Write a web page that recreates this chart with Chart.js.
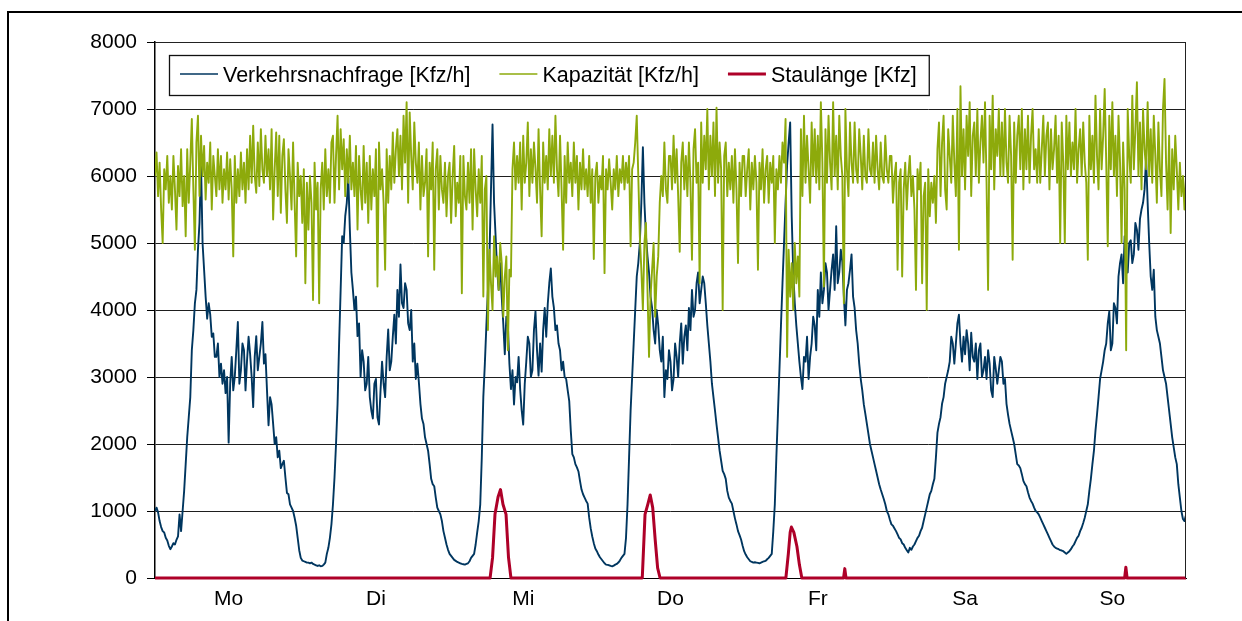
<!DOCTYPE html>
<html>
<head>
<meta charset="utf-8">
<script src="https://cdn.jsdelivr.net/npm/chart.js@4.4.1/dist/chart.umd.min.js"></script>
<style>
  html, body { margin: 0; padding: 0; background: #fff; overflow: hidden; }
  #wrap { position: relative; width: 1242px; height: 621px; }
  #frame { position: absolute; left: 7px; top: 11px; width: 1400px; height: 800px; border: 2px solid #000; }
  #chart { position: absolute; left: 0; top: 0; }
</style>
</head>
<body>
<div id="wrap">
  <div id="frame"></div>
  <canvas id="chart" width="1242" height="621"></canvas>
</div>
<script>
// one week in quarter hours, Mo 0:00 .. So 24:00
const dayLabels = ['Mo', 'Di', 'Mi', 'Do', 'Fr', 'Sa', 'So']
const dayCenters = [12, 36, 60, 84, 108, 132, 156]
const stepHours = 0.25

const demand = [
  // Mo
  1000,1050,980,850, 760,700,680,600, 560,480,430,470, 520,500,570,620, 950,700,1000,1300, 1700,2100,2400,2700,
  3400,3700,4100,4300, 4900,5300,6190,5000, 4600,4200,3870,4100, 3930,3600,3650,3300, 3300,3500,3000,3200, 2900,3100,2760,3000,
  2020,2900,3300,2800, 3000,3400,3820,2900, 3100,3500,3400,2800, 3250,3600,3340,3000, 2550,3300,3610,3100, 3300,3500,3820,3200,
  3340,2800,2280,2700, 2590,2300,2000,2100, 1800,1900,1640,1700, 1750,1500,1270,1250, 1100,1050,1000,900, 780,600,415,300,
  // Di
  260,250,240,230, 230,220,230,210, 200,190,180,190, 175,180,200,230, 360,450,600,800, 1100,1500,2000,2600,
  3500,4300,5100,5000, 5400,5600,5970,5200, 4560,4300,4000,4200, 3610,3800,3000,3400, 3230,2800,2900,3300, 2700,2500,2380,2900,
  2970,2400,2290,2800, 3230,2900,2700,3300, 3710,3100,3230,3600, 3930,3500,4300,3900, 4680,4100,4030,4400, 4300,3800,3700,4000,
  3230,3500,2970,3200, 2920,2600,2380,2300, 2100,2000,1900,1700, 1480,1400,1370,1200, 1050,1000,950,850, 700,600,500,420,
  // Mi
  360,330,300,270, 255,240,230,220, 210,205,200,210, 220,250,300,330, 360,500,680,850, 1100,1800,2700,3200,
  3770,4300,4800,5800, 6770,5600,5100,4600, 4300,4700,4190,3800, 3340,3900,3770,3200, 2820,3100,2590,3000, 2920,3300,2820,2500,
  2290,2900,3230,3600, 3500,3000,3100,3700, 3980,3400,3020,3500, 3080,3700,4030,3600, 4090,4400,4620,4200, 4030,3700,3770,3500,
  3400,3100,3230,3000, 2970,2800,2640,2200, 1850,1800,1700,1650, 1590,1450,1320,1250, 1200,1150,1110,900, 740,620,520,440,
  // Do
  400,350,310,280, 250,220,200,195, 190,180,175,185, 200,210,230,260, 300,330,360,600, 1100,1800,2500,3000,
  3500,4000,4500,4700, 5000,5600,6430,5600, 5100,4800,4560,4200, 4030,3700,3500,4000, 3770,3400,3230,3600, 2700,3100,2970,3400,
  3230,2800,2970,3500, 3300,3000,3500,3800, 3200,3600,3770,3400, 4030,3700,4300,3900, 4000,4400,4560,4100, 4300,4500,4400,4100,
  3770,3500,3230,2900, 2700,2500,2290,2100, 1900,1750,1600,1550, 1480,1300,1200,1150, 1110,1000,890,800, 700,640,575,480,
  // Fr
  400,350,310,280, 250,240,230,235, 230,225,220,230, 240,250,255,280, 300,330,360,700, 1100,1800,2440,3100,
  3770,4400,5000,5600, 6160,6500,6800,5400, 4560,4100,3770,3500, 3230,3000,2820,3300, 3230,3600,2970,3300, 3500,3900,3770,3400,
  4300,3900,4560,4100, 4300,4700,4560,4000, 4300,4600,4830,4300, 5250,4400,4560,4900, 4720,4200,3770,4300, 4400,4600,4830,4200,
  4030,3700,3500,3200, 2970,2800,2590,2450, 2300,2150,2000,1900, 1800,1700,1600,1500, 1400,1320,1250,1180, 1100,1000,950,870,
  // Sa
  800,780,740,700, 650,600,575,520, 500,450,415,380, 450,420,470,500, 550,600,630,700, 750,850,950,1050,
  1150,1250,1300,1400, 1480,1800,2170,2300, 2400,2600,2700,2900, 3000,3100,3230,3600, 3500,3200,3500,3800, 3930,3500,3230,3600,
  3340,3700,3500,3100, 3660,3300,3230,3500, 2970,3400,3500,3000, 3100,3300,2970,3400, 3200,2800,2700,3300, 3120,2900,3100,3300,
  3230,2900,2970,2600, 2440,2300,2200,2100, 2000,1850,1700,1680, 1640,1550,1450,1400, 1370,1280,1200,1150, 1110,1050,1000,980,
  // So
  950,900,850,800, 750,700,650,600, 550,500,470,450, 440,430,415,410, 400,380,360,380, 400,430,470,500,
  550,600,630,700, 750,820,900,1000, 1100,1300,1480,1700, 1900,2200,2440,2700, 2970,3100,3230,3400, 3500,3800,3980,3400,
  3500,4100,4030,3800, 4500,4700,4830,4400, 5100,4600,4560,5000, 5040,4700,4830,5300, 5200,4900,5360,5500, 5600,5800,6270,5600,
  5000,4500,4300,4600, 3900,3700,3600,3500, 3300,3100,3000,2900, 2700,2500,2300,2100, 1950,1800,1700,1400, 1200,1000,880,850,
  940
]

const capacity = [
  // Mo
  6000,6350,5700,6200, 5500,5000,6100,5800, 6300,5600,6000,5500, 6300,5800,5200,6150, 5700,6400,5550,6000, 5100,6400,5600,6200,
  6850,5800,4900,6500, 6900,5700,6600,6000, 6450,5650,6200,5900, 6500,5500,6300,6000, 5700,6400,5800,6300, 5600,6100,5800,6350,
  5650,6250,5800,4800, 6300,5600,6100,5700, 6350,5800,6200,5600, 6400,5800,6600,5900, 6750,6000,5750,6500, 5850,6700,6100,5900,
  6600,6000,6400,5800, 6700,5350,6100,6650, 5700,6600,5450,6300, 6550,5800,5300,6400, 6000,5500,6500,5600, 4800,6200,5700,6000,
  // Di
  5300,6100,4400,5900, 5200,6000,5600,4150, 6200,5500,5900,4100, 5800,6200,5500,6400, 5700,6100,5600,6500, 6600,5600,6300,6900,
  5800,6700,6100,6550, 5700,6400,5900,6600, 5800,6200,5700,6450, 5200,6300,5800,5500, 6450,5600,6200,5300, 6300,5500,6100,5700,
  6400,4350,6500,5800, 6100,5600,4600,6400, 5600,6300,5800,6650, 5900,6400,6700,6000, 6600,5800,6900,6200, 7100,5600,6950,6300,
  5800,6800,6200,5900, 6500,5500,6300,5700, 5900,6400,4800,6200, 5800,6500,4600,6100, 6400,5500,6300,5800, 5600,6200,5400,6000,
  // Mi
  6200,5300,6000,6450, 5400,5900,5600,6300, 4250,6300,5700,5500, 6200,5600,6400,5200, 6400,5800,5400,6100, 5600,6300,4200,5800,
  6000,3700,4900,4400, 4000,5100,4500,4800, 4300,5000,4700,3900, 4500,4800,3400,4600, 4500,6100,6500,5800, 6300,5900,6500,5500,
  6600,5900,6200,6800, 5700,6400,5900,6500, 6100,5600,6700,5800, 5100,6500,5900,6300, 5800,6700,6000,6600, 5900,6900,6100,5700,
  6600,5800,4900,6300, 5600,6500,5900,6200, 5700,6500,5900,6300, 5500,6200,5800,6400, 5800,6100,5700,6300, 5600,6100,4760,6000,
  // Do
  6200,5600,6000,5800, 6300,4550,6100,5800, 6250,5900,5500,6100, 5800,6300,5700,6100, 5900,6300,5800,6200, 5900,6300,4950,6100,
  6200,6500,6900,6000, 5100,4600,4000,5000, 5300,4300,3300,4200, 4600,5000,3900,4500, 4800,5600,6000,5700, 6500,5800,5600,6300,
  6300,5800,6600,5900, 6400,5700,4870,6200, 6500,5800,6300,5700, 6500,5900,4750,6400, 6700,5900,6200,4400, 6800,5900,6600,6100,
  7000,5800,6600,6000, 6800,5700,7020,5900, 6500,6100,4000,6300, 6500,5700,6200,5800, 6300,5600,6400,5800, 4700,6200,5700,6300,
  // Fr
  6300,5700,6100,6400, 5500,6200,5800,6300, 5900,4600,6200,5800, 6400,5600,6100,6300, 5600,6200,5900,6300, 5000,6100,5800,6300,
  5900,6500,6200,6850, 3300,4900,4200,4700, 4000,5000,4400,4800, 4200,6700,5700,6900, 5900,6600,6100,5600, 6800,6000,6700,5900,
  6600,5800,7100,6200, 4350,6700,5900,6900, 6200,5800,7100,6000, 6600,5800,6900,6300, 6000,4100,7000,6100, 5700,6800,6200,5900,
  6800,6100,5900,6700, 6300,5800,6600,6000, 5900,6700,6100,6000, 6500,5900,6600,6100, 5800,6500,6000,5900, 6600,6100,5900,6300,
  // Sa
  6300,5600,6000,6200, 4600,5900,6100,4500, 5800,6200,5500,6000, 6300,5700,6000,5500, 4300,6100,5800,6200, 4400,5700,5900,4000,
  6100,5400,5900,5600, 6000,5300,6400,6800, 5700,6500,6900,5800, 5500,6700,6300,5900, 6900,6200,5700,7000, 4900,7340,6000,6700,
  5800,6900,6300,7100, 5700,6600,6800,6000, 7000,5900,6500,6900, 6200,7100,5900,4300, 6900,6100,7200,5800, 6700,6300,7000,6000,
  6800,6000,7000,6200, 5900,6900,6300,4750, 6800,5900,6600,6900, 6100,7000,5800,6700, 6100,6900,5900,6600, 7000,6100,6400,5900,
  // So
  6700,5900,6400,6900, 6000,6600,6800,5800, 6700,6100,6400,6900, 5900,6600,5000,6800, 6200,5000,6900,6100, 6800,6000,6500,6100,
  7000,5900,6400,6700, 6000,6800,6200,5900, 4750,6900,6100,6600, 5900,7200,6300,5800, 7000,6100,6600,7300, 6200,4950,6900,6100,
  7100,6000,6600,5700, 6900,6200,5000,6500, 5800,3400,7000,6300, 5900,7200,6100,6700, 7400,6000,6800,5800, 7000,6400,6100,7100,
  6000,6700,5900,6900, 6300,5600,6800,6100, 5700,7000,7450,6200, 5500,6600,5150,6400, 5800,6600,6100,5500, 6200,5700,6000,5500,
  6000
]

// queue length: read at its break points (hours since Mo 0:00)
const queueHours  = [0, 54.6, 55.0, 55.4, 55.9, 56.3, 56.7, 57.2, 57.6, 58.0,
                     79.4, 79.85, 80.3, 80.7, 81.1, 81.5, 81.9, 82.3,
                     102.8, 103.2, 103.5, 103.7, 104.1, 104.6, 105.0, 105.4,
                     112.2, 112.4, 112.6, 158.0, 158.2, 158.4, 168]
const queueValues = [0, 0, 300, 950, 1210, 1320, 1100, 950, 310, 0,
                     0, 950, 1100, 1240, 1050, 575, 150, 0,
                     0, 360, 680, 760, 680, 470, 200, 0,
                     0, 140, 0, 0, 160, 0, 0]

const seriesNames = ['Verkehrsnachfrage [Kfz/h]', 'Kapazität [Kfz/h]', 'Staulänge [Kfz]']
const seriesColors = ['#00365F', '#8DAA0B', '#AE0028']

const FONT = '"Liberation Sans", Arial, sans-serif'
Chart.defaults.font.family = FONT
Chart.defaults.color = '#000'

const toPoints = (values) => values.map((v, i) => ({ x: i * stepHours, y: v }))

// legend box inside the plot + top/right plot frame
const boxLegend = {
    id: 'boxLegend',
    afterDraw(chart) {
        const ctx = chart.ctx
        const area = chart.chartArea

        ctx.save()
        ctx.strokeStyle = '#222'
        ctx.lineWidth = 1
        ctx.beginPath()
        ctx.moveTo(area.left, area.top + 0.5)
        ctx.lineTo(area.right - 0.5, area.top + 0.5)
        ctx.lineTo(area.right - 0.5, area.bottom)
        ctx.stroke()

        ctx.font = '21.5px ' + FONT
        const lineLen = 38, gapText = 5, gapItem = 29
        const left = area.left + 14, top = area.top + 13, h = 40
        let width = 11
        seriesNames.forEach((name, i) => {
            width += lineLen + gapText + ctx.measureText(name).width
            if (i < seriesNames.length - 1) width += gapItem
        })
        width += 12

        ctx.fillStyle = '#fff'
        ctx.fillRect(left, top, width, h)
        ctx.strokeStyle = '#111'
        ctx.lineWidth = 1.3
        ctx.strokeRect(left + 0.5, top + 0.5, width, h)

        let x = left + 11
        const midY = top + 19
        seriesNames.forEach((name, i) => {
            ctx.strokeStyle = seriesColors[i]
            ctx.lineWidth = i == 2 ? 3 : 1.5
            ctx.beginPath()
            ctx.moveTo(x, midY)
            ctx.lineTo(x + lineLen, midY)
            ctx.stroke()
            x += lineLen + gapText
            ctx.fillStyle = '#000'
            ctx.textBaseline = 'alphabetic'
            ctx.fillText(name, x, top + 27)
            x += ctx.measureText(name).width + gapItem
        })
        ctx.restore()
    }
}

new Chart(document.getElementById('chart'), {
    type: 'line',
    data: {
        datasets: [
            {
                label: seriesNames[0],
                data: toPoints(demand),
                borderColor: seriesColors[0],
                borderWidth: 1.9,
                order: 3
            },
            {
                label: seriesNames[1],
                data: toPoints(capacity),
                borderColor: seriesColors[1],
                borderWidth: 1.9,
                order: 2
            },
            {
                label: seriesNames[2],
                data: queueHours.map((hr, i) => ({ x: hr, y: queueValues[i] })),
                borderColor: seriesColors[2],
                borderWidth: 3,
                clip: false,
                order: 1
            }
        ]
    },
    options: {
        responsive: false,
        animation: false,
        events: [],
        elements: {
            point: { radius: 0 },
            line: { tension: 0, borderJoinStyle: 'round', fill: false }
        },
        layout: { padding: { top: 42, right: 56, left: 0, bottom: 0 } },
        plugins: {
            legend: { display: false },
            tooltip: { enabled: false }
        },
        scales: {
            x: {
                type: 'linear',
                min: 0,
                max: 168,
                afterBuildTicks: (scale) => {
                    scale.ticks = dayCenters.map(v => ({ value: v }))
                },
                ticks: {
                    autoSkip: false,
                    maxRotation: 0,
                    padding: 9,
                    font: { size: 21 },
                    callback: (v, i) => dayLabels[i]
                },
                grid: { drawOnChartArea: false, drawTicks: false },
                border: { color: '#000', width: 1 },
                afterFit: (scale) => { scale.height = 43 }
            },
            y: {
                min: 0,
                max: 8000,
                ticks: {
                    stepSize: 1000,
                    padding: 10,
                    font: { size: 21 },
                    callback: (v) => String(v)
                },
                grid: { color: '#1e1e1e', lineWidth: 1, tickLength: 8, tickColor: '#000' },
                border: { color: '#000', width: 1.5 },
                afterFit: (scale) => { scale.width = 155 }
            }
        }
    },
    plugins: [boxLegend]
});
</script>
</body>
</html>
